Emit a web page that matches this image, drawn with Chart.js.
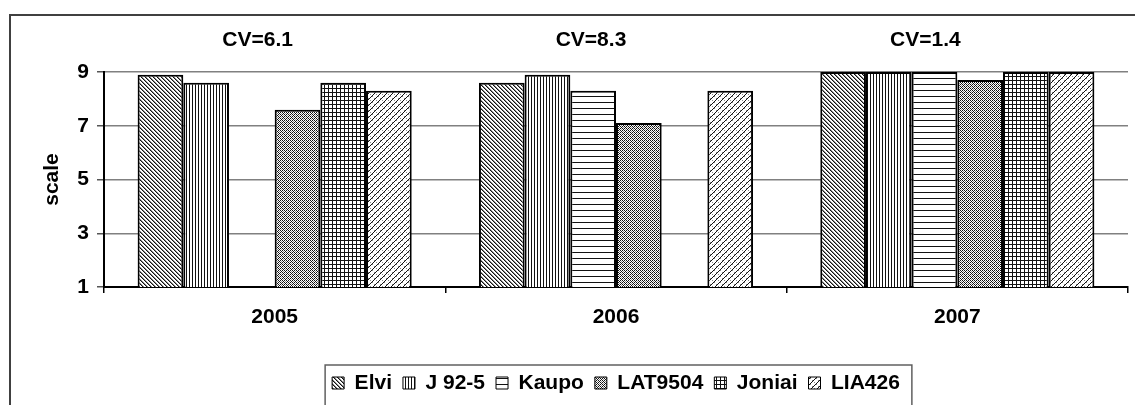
<!DOCTYPE html>
<html>
<head>
<meta charset="utf-8">
<title>scale</title>
<script src="https://cdn.jsdelivr.net/npm/chart.js@4.4.1/dist/chart.umd.min.js"></script>
<style>
  html, body { margin: 0; padding: 0; background: #fff; }
  #wrap { width: 1135px; height: 405px; }
</style>
</head>
<body>
<div id="wrap"><canvas id="chart" width="1135" height="405"></canvas></div>
<script>
// données du graphique
const years = ['2005', '2006', '2007'];
const cvLabels = ['CV=6.1', 'CV=8.3', 'CV=1.4'];
const varieties = ['Elvi', 'J 92-5', 'Kaupo', 'LAT9504', 'Joniai', 'LIA426'];
const elvi = [8.9, 8.6, 9.0];
const j925 = [8.6, 8.9, 9.0];
const kaupo = [null, 8.3, 9.0];
const lat9504 = [7.6, 7.1, 8.7];
const joniai = [8.6, null, 9.0];
const lia426 = [8.3, 8.3, 9.0];
const yTicks = [1, 3, 5, 7, 9];

// décalage des étiquettes CV par rapport au centre de la catégorie
const cvShift = [-17, -25, -32];

const FONT = { family: '"Liberation Sans", Arial, sans-serif', size: 21, weight: 'bold' };

const canvas = document.getElementById('chart');
const ctx = canvas.getContext('2d');

// motifs noir et blanc (x = foncé, o = gris, . = blanc)
function hatch(rows) {
    const h = rows.length, w = rows[0].length;
    const t = document.createElement('canvas');
    t.width = w; t.height = h;
    const g = t.getContext('2d');
    g.fillStyle = '#fff';
    g.fillRect(0, 0, w, h);
    rows.forEach((r, y) => {
        for (let x = 0; x < w; x++) {
            if (r[x] === 'x') { g.fillStyle = '#111'; g.fillRect(x, y, 1, 1); }
            else if (r[x] === 'o') { g.fillStyle = '#888'; g.fillRect(x, y, 1, 1); }
        }
    });
    return ctx.createPattern(t, 'repeat');
}

const patterns = [
    hatch(['xo..', '.xo.', '..xo', 'o..x']),
    hatch(['x..']),
    hatch(['x', '.', '.', '.', '.', '.']),
    hatch(['x.x.', '.o.x', 'x.x.', '.x.o']),
    hatch(['xxxx', 'x...', 'x...', 'x...']),
    hatch(['o....x', '....x.', '..ox..', '..x...', '.x..o.', 'x.....'])
];
const seriesValues = [elvi, j925, kaupo, lat9504, joniai, lia426];

const decor = {
    id: 'decor',
    beforeDraw(chart) {
        const c = chart.ctx;
        c.save();
        c.fillStyle = '#fff';
        c.fillRect(0, 0, chart.width, chart.height);
        c.strokeStyle = '#404040';
        c.lineWidth = 2;
        c.beginPath();
        c.moveTo(10, chart.height + 2);
        c.lineTo(10, 15);
        c.lineTo(chart.width + 2, 15);
        c.stroke();
        c.restore();
    },
    afterLayout(chart) {
        // centrer la légende sous la zone de tracé
        const lg = chart.legend, ca = chart.chartArea;
        const dx = (ca.left + ca.right) / 2 - (lg.left + lg.right) / 2;
        lg.left += dx;
        lg.right += dx;
    },
    afterDraw(chart) {
        const c = chart.ctx;
        const x = chart.scales.x;
        c.save();
        c.font = `${FONT.weight} ${FONT.size}px ${FONT.family}`;
        c.fillStyle = '#000';
        c.textAlign = 'center';
        c.textBaseline = 'middle';
        cvLabels.forEach((t, i) => c.fillText(t, x.getPixelForValue(i) + cvShift[i], 40));

        // cadre de la légende
        const lg = chart.legend;
        const pad = lg.options.labels.padding;
        const x0 = (lg.left + pad + lg.right - lg.lineWidths[0]) / 2;
        const x1 = x0 + lg.lineWidths[0] - pad;
        c.strokeStyle = '#606060';
        c.lineWidth = 1.5;
        c.beginPath();
        c.moveTo(x0 - 7, chart.height + 2);
        c.lineTo(x0 - 7, 365);
        c.lineTo(x1 + 12, 365);
        c.lineTo(x1 + 12, chart.height + 2);
        c.stroke();
        c.restore();
    }
};

new Chart(ctx, {
    type: 'bar',
    data: {
        labels: years,
        datasets: varieties.map((name, i) => ({
            label: name,
            data: seriesValues[i],
            backgroundColor: patterns[i],
            borderColor: '#000',
            borderWidth: 2,
            borderSkipped: false,
            categoryPercentage: 0.803,
            barPercentage: 1.0
        }))
    },
    options: {
        responsive: false,
        animation: false,
        layout: { padding: { top: 72, right: 7, bottom: 1.5, left: 0 } },
        font: FONT,
        plugins: {
            tooltip: { enabled: false },
            legend: {
                position: 'bottom',
                labels: {
                    boxWidth: 12,
                    boxHeight: 12,
                    padding: 11,
                    color: '#000',
                    font: FONT,
                    generateLabels(chart) {
                        const items = Chart.defaults.plugins.legend.labels.generateLabels(chart);
                        items.forEach(it => { it.lineWidth = 1; it.strokeStyle = '#000'; });
                        return items;
                    }
                }
            }
        },
        scales: {
            x: {
                afterFit(s) { s.height = 74.5; },
                border: { color: '#000', width: 2 },
                grid: {
                    offset: true,
                    drawOnChartArea: true,
                    color: c => c.index === years.length ? '#808080' : 'rgba(0,0,0,0)',
                    lineWidth: 1.5,
                    tickColor: '#000',
                    tickLength: 6
                },
                ticks: { color: '#000', font: FONT, padding: 12 }
            },
            y: {
                min: yTicks[0],
                max: yTicks[yTicks.length - 1],
                afterFit(s) { s.width = 104; },
                afterBuildTicks(s) { s.ticks = yTicks.map(v => ({ value: v })); },
                border: { color: '#000', width: 2 },
                grid: { color: '#808080', lineWidth: 1.5, tickColor: '#555', tickLength: 7 },
                ticks: { color: '#000', font: FONT, padding: 8 },
                title: { display: true, text: 'scale', color: '#000', font: FONT, padding: { top: 40, bottom: 0 } }
            }
        }
    },
    plugins: [decor]
});
</script>
</body>
</html>
